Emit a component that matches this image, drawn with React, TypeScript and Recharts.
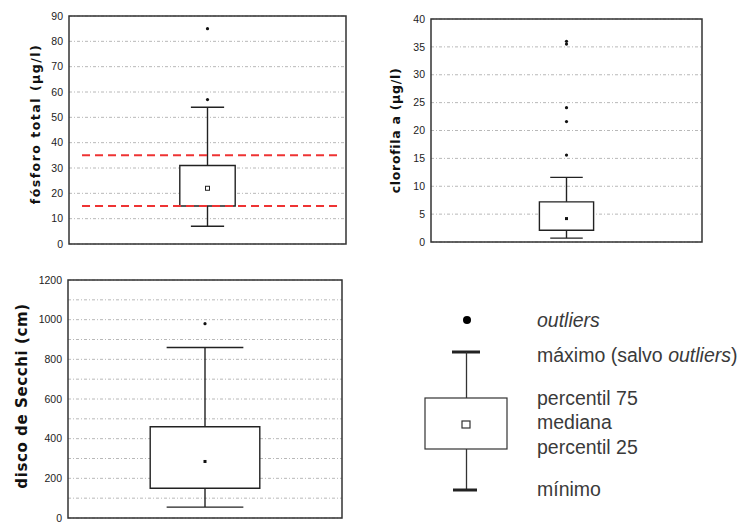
import { ComposedChart, XAxis, YAxis, CartesianGrid, Scatter, ReferenceArea, ReferenceLine } from 'recharts';

// box values: [mínimo, percentil 25, mediana, percentil 75, máximo]
const fosforoBox = [7, 15, 22, 31, 54];
const fosforoOutliers = [57, 85];
const fosforoLimits = [15, 35];
const fosforoTicks = [0, 10, 20, 30, 40, 50, 60, 70, 80, 90];

const clorofilaBox = [0.7, 2.1, 4.2, 7.2, 11.6];
const clorofilaOutliers = [15.6, 21.6, 24.1, 35.5, 36];
const clorofilaTicks = [0, 5, 10, 15, 20, 25, 30, 35, 40];

const secchiBox = [55, 150, 285, 460, 860];
const secchiOutliers = [980];
const secchiTicks = [0, 100, 200, 300, 400, 500, 600, 700, 800, 900, 1000, 1100, 1200];
const secchiLabels = [0, 200, 400, 600, 800, 1000, 1200];

const legendLabels = ['outliers', 'máximo (salvo ', 'percentil 75', 'mediana', 'percentil 25', 'mínimo'];

const yTitle = (text: string, x: number, size: number, spacing: number, shift: number) => (props: any) => {
  const vb = props.viewBox || {};
  const cy = vb.y + vb.height / 2 + shift;
  return (
    <text
      x={x}
      y={cy}
      transform={`rotate(-90, ${x}, ${cy})`}
      textAnchor="middle"
      dominantBaseline="central"
      fontFamily="DejaVu Sans"
      fontWeight="bold"
      fontSize={size}
      letterSpacing={spacing}
      fill="#111"
    >
      {text}
    </text>
  );
};

const dot = (props: any) => <circle cx={props.cx} cy={props.cy} r={1.6} fill="#111" />;
const medianSquare = (hollow: boolean) => (props: any) =>
  hollow ? (
    <rect x={props.cx - 2} y={props.cy - 2} width={4} height={4} fill="#fff" stroke="#222" strokeWidth={1} />
  ) : (
    <rect x={props.cx - 1.5} y={props.cy - 1.5} width={3} height={3} fill="#111" />
  );

type BoxProps = {
  box: number[];
  outliers: number[];
  ticks: number[];
  labels?: number[];
  limits?: number[];
  title: string;
  titleX: number;
  titleSize: number;
  titleSpacing: number;
  titleShift: number;
  width: number;
  height: number;
  margin: { top: number; right: number; bottom: number; left: number };
  yWidth: number;
  boxHalf: number;
  capHalf: number;
  hollow?: boolean;
};

function BoxChart(p: BoxProps) {
  const [min, q1, med, q3, max] = p.box;
  const top = p.ticks[p.ticks.length - 1];
  const shown = p.labels || p.ticks;
  const c = 0.5;
  const line = { stroke: '#222', strokeWidth: 1.4 };
  return (
    <ComposedChart width={p.width} height={p.height} margin={p.margin}>
      <CartesianGrid vertical={false} stroke="#b8b8b8" strokeDasharray="3 2 1 2" />
      <XAxis type="number" dataKey="x" domain={[0, 1]} hide />
      <YAxis
        type="number"
        dataKey="y"
        domain={[0, top]}
        ticks={p.ticks}
        interval={0}
        width={p.yWidth}
        axisLine={false}
        tickLine={false}
        tickSize={4}
        tickMargin={2}
        tickFormatter={(v: number) => (shown.includes(v) ? String(v) : '')}
        tick={{ fontSize: 10.5, fontFamily: 'Liberation Sans', fill: '#222' }}
        label={yTitle(p.title, p.titleX, p.titleSize, p.titleSpacing, p.titleShift)}
      />
      <ReferenceLine segment={[{ x: c, y: min }, { x: c, y: q1 }]} {...line} />
      <ReferenceLine segment={[{ x: c, y: q3 }, { x: c, y: max }]} {...line} />
      <ReferenceLine segment={[{ x: c - p.capHalf, y: max }, { x: c + p.capHalf, y: max }]} {...line} />
      <ReferenceLine segment={[{ x: c - p.capHalf, y: min }, { x: c + p.capHalf, y: min }]} {...line} />
      <ReferenceArea x1={c - p.boxHalf} x2={c + p.boxHalf} y1={q1} y2={q3} fill="#fff" fillOpacity={1} stroke="#222" strokeWidth={1.4} />
      {(p.limits || []).map((v) => (
        <ReferenceLine
          key={v}
          segment={[{ x: 0.047, y: v }, { x: 0.978, y: v }]}
          stroke="#ee3333"
          strokeWidth={2}
          strokeDasharray="8 5"
        />
      ))}
      <Scatter data={[{ x: c, y: med }]} shape={medianSquare(!!p.hollow)} isAnimationActive={false} />
      <Scatter data={p.outliers.map((y) => ({ x: c, y }))} shape={dot} isAnimationActive={false} />
      <ReferenceArea x1={0} x2={1} y1={0} y2={top} fill="none" stroke="#333" strokeWidth={1.5} />
    </ComposedChart>
  );
}

function Legend() {
  const txt = { fontFamily: 'Liberation Sans', fontSize: 19.5, fill: '#3a3a3a', dominantBaseline: 'central' as const };
  return (
    <svg width={348} height={220}>
      <circle cx={67} cy={30} r={4} fill="#000" />
      <line x1={52} x2={80} y1={62} y2={62} stroke="#222" strokeWidth={3} />
      <line x1={66.5} x2={66.5} y1={62} y2={108} stroke="#333" strokeWidth={1.3} />
      <rect x={25} y={108} width={82} height={51} fill="#fff" stroke="#333" strokeWidth={1.2} />
      <rect x={62} y={131} width={8} height={7} fill="#fff" stroke="#333" strokeWidth={1.2} />
      <line x1={66.5} x2={66.5} y1={159} y2={200} stroke="#333" strokeWidth={1.3} />
      <line x1={53} x2={77} y1={200} y2={200} stroke="#222" strokeWidth={3} />
      <text x={137} y={30} {...txt} fontStyle="italic">{legendLabels[0]}</text>
      <text x={137} y={65} {...txt}>
        {legendLabels[1]}
        <tspan fontStyle="italic">outliers</tspan>)
      </text>
      <text x={137} y={108} {...txt}>{legendLabels[2]}</text>
      <text x={137} y={132} {...txt}>{legendLabels[3]}</text>
      <text x={137} y={157} {...txt}>{legendLabels[4]}</text>
      <text x={137} y={199} {...txt}>{legendLabels[5]}</text>
    </svg>
  );
}

export default function App() {
  return (
    <div style={{ position: 'absolute', left: 0, top: 0, width: 748, height: 523, background: '#fff' }}>
      <div style={{ position: 'absolute', left: 0, top: 0 }}>
        <BoxChart
          box={fosforoBox}
          outliers={fosforoOutliers}
          ticks={fosforoTicks}
          limits={fosforoLimits}
          title="fósforo total (µg/l)"
          titleX={35}
          titleSize={12.5}
          titleSpacing={1.5}
          titleShift={-6}
          width={360}
          height={260}
          margin={{ top: 16, right: 14, bottom: 16, left: 0 }}
          yWidth={69}
          boxHalf={0.1}
          capHalf={0.06}
          hollow
        />
      </div>
      <div style={{ position: 'absolute', left: 360, top: 0 }}>
        <BoxChart
          box={clorofilaBox}
          outliers={clorofilaOutliers}
          ticks={clorofilaTicks}
          title="clorofila a (µg/l)"
          titleX={35}
          titleSize={12.5}
          titleSpacing={0.7}
          titleShift={0}
          width={388}
          height={260}
          margin={{ top: 19, right: 46, bottom: 18, left: 0 }}
          yWidth={71}
          boxHalf={0.1}
          capHalf={0.06}
        />
      </div>
      <div style={{ position: 'absolute', left: 0, top: 262 }}>
        <BoxChart
          box={secchiBox}
          outliers={secchiOutliers}
          ticks={secchiTicks}
          labels={secchiLabels}
          title="disco de Secchi (cm)"
          titleX={22}
          titleSize={15}
          titleSpacing={0.6}
          titleShift={-3}
          width={360}
          height={261}
          margin={{ top: 18, right: 18, bottom: 5, left: 0 }}
          yWidth={68}
          boxHalf={0.2}
          capHalf={0.14}
        />
      </div>
      <div style={{ position: 'absolute', left: 400, top: 290 }}>
        <Legend />
      </div>
    </div>
  );
}
